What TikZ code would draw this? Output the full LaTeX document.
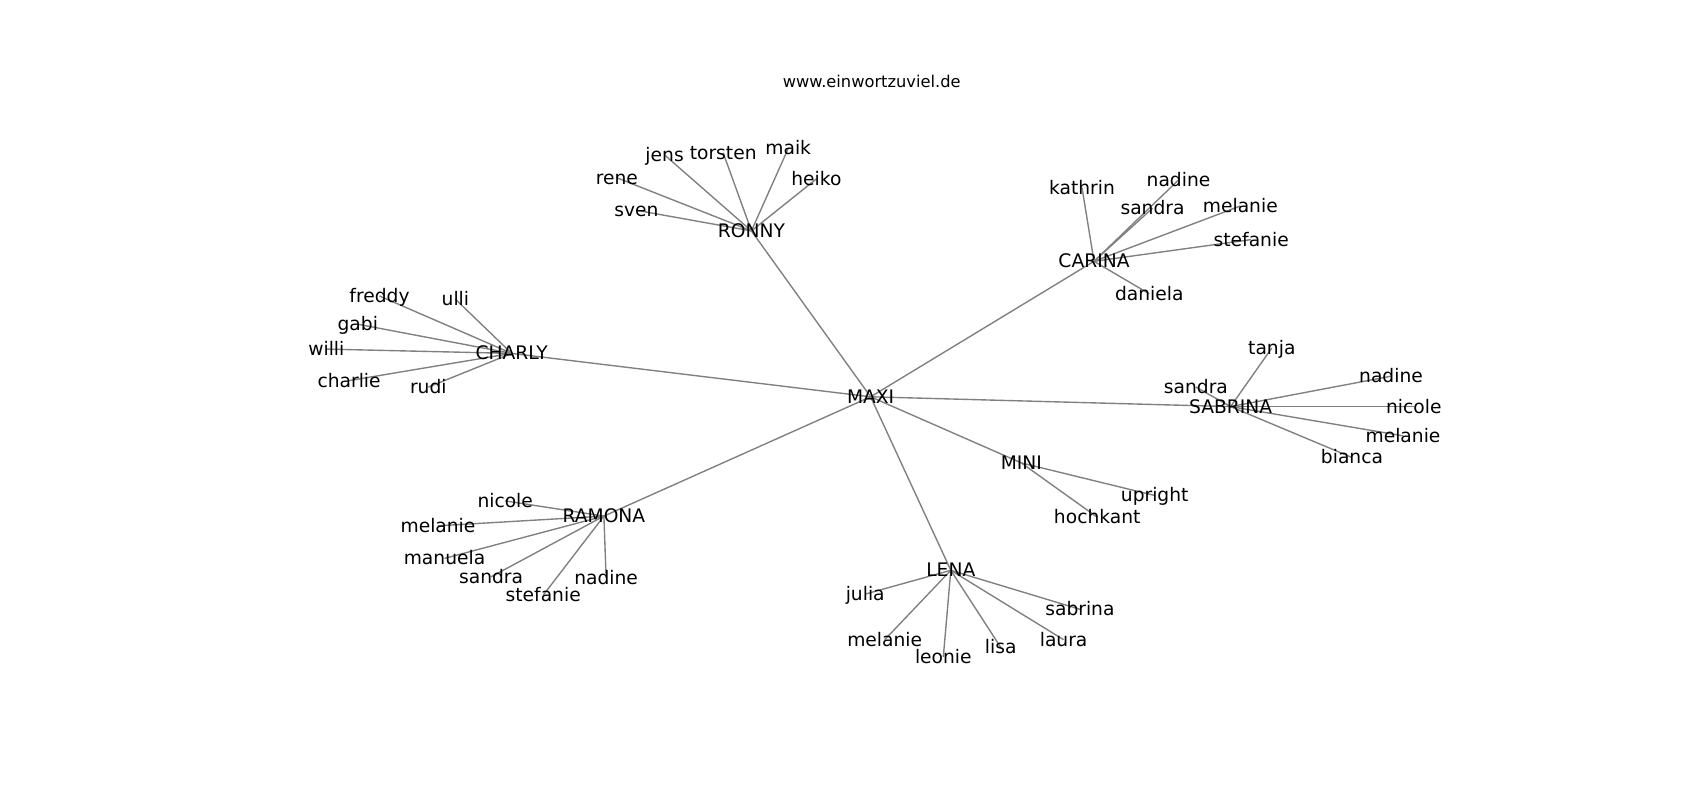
\documentclass[tikz,border=0pt]{standalone}
\usepackage{fontspec}
\setmainfont{DejaVu Sans}
\usetikzlibrary{backgrounds}
\tikzset{
  lbl/.style={inner sep=0pt, text height=0.93em, text depth=0pt, font=\fontsize{13.5}{16}\selectfont},
  link/.style={draw=gray, line width=1pt}
}
\begin{document}
\begin{tikzpicture}[line cap=round, line join=round, x=0.0254cm, y=-0.0254cm]
                \useasboundingbox (0,0) rectangle (1700,800);
                \node[anchor=base, font=\fontsize{11.75}{14}\selectfont] (title) at (871.7,88) {www.einwortzuviel.de};
                \node[lbl] (maxi) at (870.6,396.8) {MAXI};
                \node[lbl] (ronny) at (751.4,230.9) {RONNY};
                \node[lbl] (carina) at (1094.0,261.3) {CARINA};
                \node[lbl] (charly) at (511.7,353.4) {CHARLY};
                \node[lbl] (sabrina) at (1230.6,406.6) {SABRINA};
                \node[lbl] (mini) at (1021.3,462.9) {MINI};
                \node[lbl] (ramona) at (603.9,516.1) {RAMONA};
                \node[lbl] (lena) at (950.8,570.3) {LENA};
                \begin{scope}[on background layer]
                    \foreach \hub in {ronny, carina, charly, sabrina, mini, ramona, lena}
                        \draw[link] (maxi.center) -- (\hub.center);
                \end{scope}
                % leaves of each hub
                \foreach \n/\x/\y in {jens/664.6/155.0, torsten/723.2/152.9, maik/788.2/148.5, heiko/816.4/178.9, rene/616.9/177.8, sven/636.4/210.3} {
                    \node[lbl] (ronny-\n) at (\x,\y) {\n};
                    \begin{scope}[on background layer]\draw[link] (ronny.center) -- (ronny-\n.center);\end{scope}
                }
                \foreach \n/\x/\y in {kathrin/1082.0/187.6, nadine/1178.5/180.0, sandra/1152.5/208.2, melanie/1240.3/206.0, stefanie/1251.2/239.6, daniela/1149.3/293.8} {
                    \node[lbl] (carina-\n) at (\x,\y) {\n};
                    \begin{scope}[on background layer]\draw[link] (carina.center) -- (carina-\n.center);\end{scope}
                }
                \foreach \n/\x/\y in {freddy/379.5/296.0, ulli/455.4/299.2, gabi/357.8/324.2, willi/326.3/349.1, charlie/349.1/380.6, rudi/428.3/387.1} {
                    \node[lbl] (charly-\n) at (\x,\y) {\n};
                    \begin{scope}[on background layer]\draw[link] (charly.center) -- (charly-\n.center);\end{scope}
                }
                \foreach \n/\x/\y in {tanja/1271.8/348.0, sandra/1195.9/387.1, nadine/1391.0/376.2, nicole/1413.8/406.6, melanie/1403.0/435.8, bianca/1352.0/457.5} {
                    \node[lbl] (sabrina-\n) at (\x,\y) {\n};
                    \begin{scope}[on background layer]\draw[link] (sabrina.center) -- (sabrina-\n.center);\end{scope}
                }
                \foreach \n/\x/\y in {upright/1154.7/495.5, hochkant/1097.2/517.2} {
                    \node[lbl] (mini-\n) at (\x,\y) {\n};
                    \begin{scope}[on background layer]\draw[link] (mini.center) -- (mini-\n.center);\end{scope}
                }
                \foreach \n/\x/\y in {nicole/505.2/500.9, melanie/438.0/525.8, manuela/444.5/558.4, sandra/491.1/576.8, stefanie/543.2/595.2, nadine/606.1/577.9} {
                    \node[lbl] (ramona-\n) at (\x,\y) {\n};
                    \begin{scope}[on background layer]\draw[link] (ramona.center) -- (ramona-\n.center);\end{scope}
                }
                \foreach \n/\x/\y in {julia/865.2/594.1, melanie/884.7/639.7, leonie/943.3/657.0, lisa/1000.7/647.3, laura/1063.6/639.7, sabrina/1079.9/609.3} {
                    \node[lbl] (lena-\n) at (\x,\y) {\n};
                    \begin{scope}[on background layer]\draw[link] (lena.center) -- (lena-\n.center);\end{scope}
                }
            \end{tikzpicture}
\end{document}
